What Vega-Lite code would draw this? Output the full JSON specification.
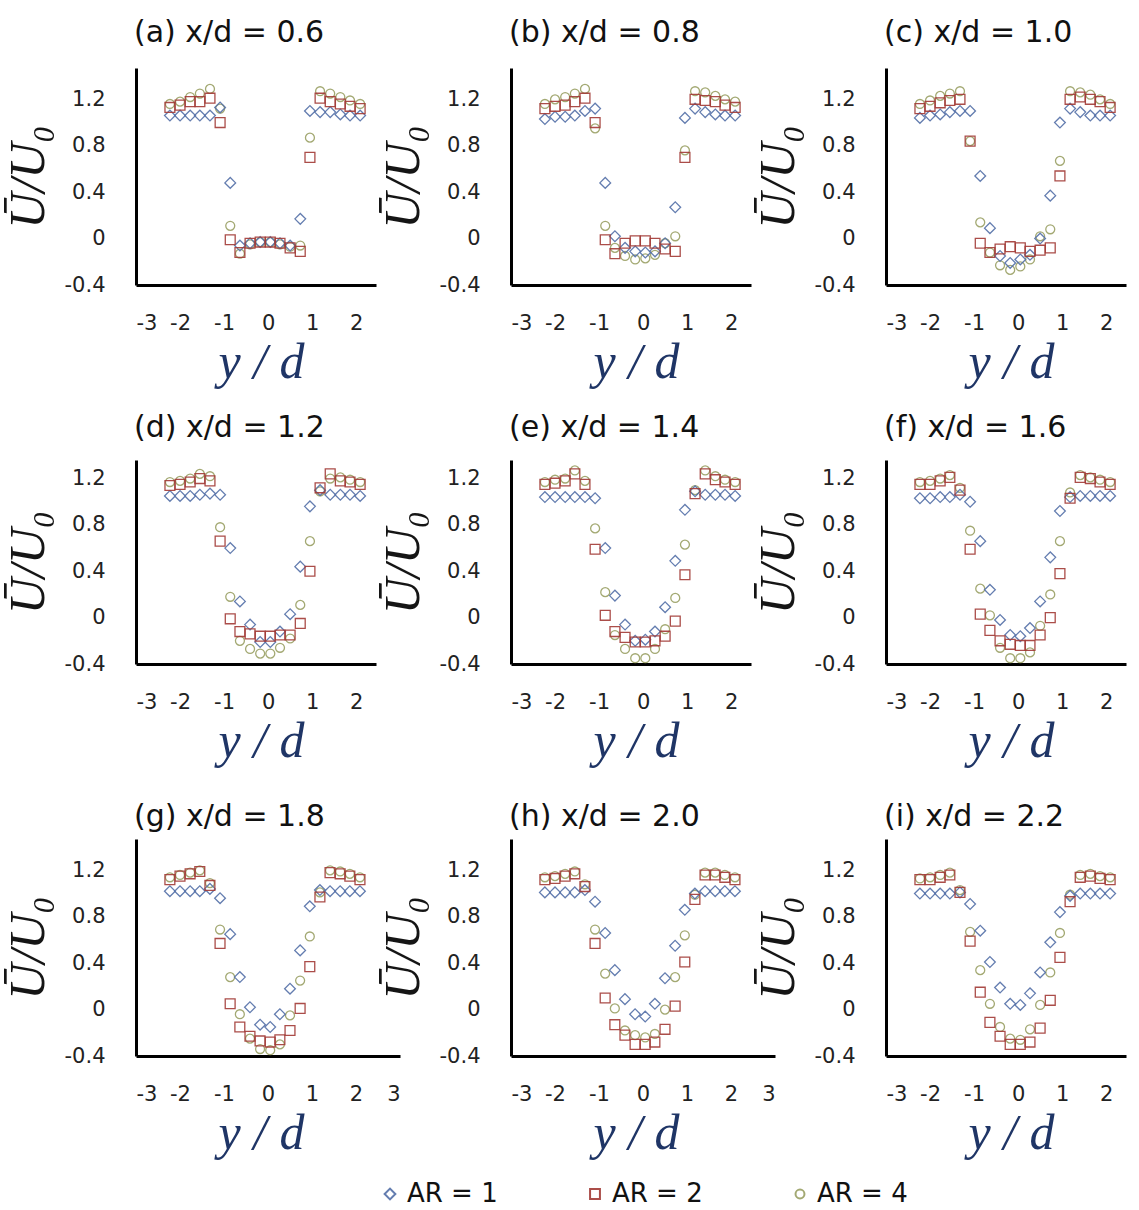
{
"$schema": "https://vega.github.io/schema/vega-lite/v6.json",
"padding": {"left": 3, "top": 18, "right": 5, "bottom": 5},
"bounds": "flush",
"align": "each",
"columns": 3,
"spacing": {"row": 175, "column": 111},
"datasets": {
"a": [
{"s":"4","x":-2.23,"y":1.16},{"s":"4","x":-2.0,"y":1.18},{"s":"4","x":-1.77,"y":1.22},{"s":"4","x":-1.55,"y":1.25},{"s":"4","x":-1.32,"y":1.29},{"s":"4","x":-1.09,"y":1.12},{"s":"4","x":-0.86,"y":0.11},{"s":"4","x":-0.64,"y":-0.13},{"s":"4","x":-0.41,"y":-0.05},{"s":"4","x":-0.18,"y":-0.03},{"s":"4","x":0.05,"y":-0.03},{"s":"4","x":0.27,"y":-0.05},{"s":"4","x":0.5,"y":-0.07},{"s":"4","x":0.73,"y":-0.06},{"s":"4","x":0.95,"y":0.87},{"s":"4","x":1.18,"y":1.27},{"s":"4","x":1.41,"y":1.25},{"s":"4","x":1.64,"y":1.22},{"s":"4","x":1.86,"y":1.19},{"s":"4","x":2.09,"y":1.16},
{"s":"1","x":-2.23,"y":1.06},{"s":"1","x":-2.0,"y":1.06},{"s":"1","x":-1.77,"y":1.06},{"s":"1","x":-1.55,"y":1.06},{"s":"1","x":-1.32,"y":1.06},{"s":"1","x":-1.09,"y":1.13},{"s":"1","x":-0.86,"y":0.48},{"s":"1","x":-0.64,"y":-0.06},{"s":"1","x":-0.41,"y":-0.04},{"s":"1","x":-0.18,"y":-0.03},{"s":"1","x":0.05,"y":-0.03},{"s":"1","x":0.27,"y":-0.04},{"s":"1","x":0.5,"y":-0.06},{"s":"1","x":0.73,"y":0.17},{"s":"1","x":0.95,"y":1.10},{"s":"1","x":1.18,"y":1.09},{"s":"1","x":1.41,"y":1.09},{"s":"1","x":1.64,"y":1.07},{"s":"1","x":1.86,"y":1.06},{"s":"1","x":2.09,"y":1.06},
{"s":"2","x":-2.23,"y":1.13},{"s":"2","x":-2.0,"y":1.15},{"s":"2","x":-1.77,"y":1.18},{"s":"2","x":-1.55,"y":1.18},{"s":"2","x":-1.32,"y":1.21},{"s":"2","x":-1.09,"y":1.00},{"s":"2","x":-0.86,"y":-0.01},{"s":"2","x":-0.64,"y":-0.12},{"s":"2","x":-0.41,"y":-0.04},{"s":"2","x":-0.18,"y":-0.03},{"s":"2","x":0.05,"y":-0.03},{"s":"2","x":0.27,"y":-0.04},{"s":"2","x":0.5,"y":-0.08},{"s":"2","x":0.73,"y":-0.11},{"s":"2","x":0.95,"y":0.70},{"s":"2","x":1.18,"y":1.21},{"s":"2","x":1.41,"y":1.18},{"s":"2","x":1.64,"y":1.16},{"s":"2","x":1.86,"y":1.14},{"s":"2","x":2.09,"y":1.12}
],
"b": [
{"s":"4","x":-2.23,"y":1.16},{"s":"4","x":-2.0,"y":1.20},{"s":"4","x":-1.77,"y":1.22},{"s":"4","x":-1.55,"y":1.25},{"s":"4","x":-1.32,"y":1.29},{"s":"4","x":-1.09,"y":0.95},{"s":"4","x":-0.86,"y":0.11},{"s":"4","x":-0.64,"y":-0.08},{"s":"4","x":-0.41,"y":-0.15},{"s":"4","x":-0.18,"y":-0.18},{"s":"4","x":0.05,"y":-0.17},{"s":"4","x":0.27,"y":-0.14},{"s":"4","x":0.5,"y":-0.04},{"s":"4","x":0.73,"y":0.02},{"s":"4","x":0.95,"y":0.76},{"s":"4","x":1.18,"y":1.27},{"s":"4","x":1.41,"y":1.26},{"s":"4","x":1.64,"y":1.23},{"s":"4","x":1.86,"y":1.20},{"s":"4","x":2.09,"y":1.18},
{"s":"1","x":-2.23,"y":1.03},{"s":"1","x":-2.0,"y":1.05},{"s":"1","x":-1.77,"y":1.05},{"s":"1","x":-1.55,"y":1.06},{"s":"1","x":-1.32,"y":1.10},{"s":"1","x":-1.09,"y":1.12},{"s":"1","x":-0.86,"y":0.48},{"s":"1","x":-0.64,"y":0.02},{"s":"1","x":-0.41,"y":-0.08},{"s":"1","x":-0.18,"y":-0.11},{"s":"1","x":0.05,"y":-0.12},{"s":"1","x":0.27,"y":-0.11},{"s":"1","x":0.5,"y":-0.04},{"s":"1","x":0.73,"y":0.27},{"s":"1","x":0.95,"y":1.04},{"s":"1","x":1.18,"y":1.12},{"s":"1","x":1.41,"y":1.09},{"s":"1","x":1.64,"y":1.07},{"s":"1","x":1.86,"y":1.06},{"s":"1","x":2.09,"y":1.06},
{"s":"2","x":-2.23,"y":1.12},{"s":"2","x":-2.0,"y":1.14},{"s":"2","x":-1.77,"y":1.15},{"s":"2","x":-1.55,"y":1.18},{"s":"2","x":-1.32,"y":1.21},{"s":"2","x":-1.09,"y":1.00},{"s":"2","x":-0.86,"y":-0.01},{"s":"2","x":-0.64,"y":-0.13},{"s":"2","x":-0.41,"y":-0.04},{"s":"2","x":-0.18,"y":-0.02},{"s":"2","x":0.05,"y":-0.02},{"s":"2","x":0.27,"y":-0.04},{"s":"2","x":0.5,"y":-0.09},{"s":"2","x":0.73,"y":-0.11},{"s":"2","x":0.95,"y":0.70},{"s":"2","x":1.18,"y":1.20},{"s":"2","x":1.41,"y":1.19},{"s":"2","x":1.64,"y":1.18},{"s":"2","x":1.86,"y":1.15},{"s":"2","x":2.09,"y":1.13}
],
"c": [
{"s":"4","x":-2.23,"y":1.16},{"s":"4","x":-2.0,"y":1.19},{"s":"4","x":-1.77,"y":1.23},{"s":"4","x":-1.55,"y":1.25},{"s":"4","x":-1.32,"y":1.27},{"s":"4","x":-1.09,"y":0.84},{"s":"4","x":-0.86,"y":0.14},{"s":"4","x":-0.64,"y":-0.12},{"s":"4","x":-0.41,"y":-0.23},{"s":"4","x":-0.18,"y":-0.27},{"s":"4","x":0.05,"y":-0.24},{"s":"4","x":0.27,"y":-0.18},{"s":"4","x":0.5,"y":0.02},{"s":"4","x":0.73,"y":0.08},{"s":"4","x":0.95,"y":0.67},{"s":"4","x":1.18,"y":1.27},{"s":"4","x":1.41,"y":1.26},{"s":"4","x":1.64,"y":1.24},{"s":"4","x":1.86,"y":1.20},{"s":"4","x":2.09,"y":1.16},
{"s":"1","x":-2.23,"y":1.04},{"s":"1","x":-2.0,"y":1.06},{"s":"1","x":-1.77,"y":1.07},{"s":"1","x":-1.55,"y":1.09},{"s":"1","x":-1.32,"y":1.10},{"s":"1","x":-1.09,"y":1.10},{"s":"1","x":-0.86,"y":0.54},{"s":"1","x":-0.64,"y":0.09},{"s":"1","x":-0.41,"y":-0.15},{"s":"1","x":-0.18,"y":-0.21},{"s":"1","x":0.05,"y":-0.18},{"s":"1","x":0.27,"y":-0.14},{"s":"1","x":0.5,"y":0.00},{"s":"1","x":0.73,"y":0.37},{"s":"1","x":0.95,"y":1.00},{"s":"1","x":1.18,"y":1.12},{"s":"1","x":1.41,"y":1.09},{"s":"1","x":1.64,"y":1.06},{"s":"1","x":1.86,"y":1.06},{"s":"1","x":2.09,"y":1.06},
{"s":"2","x":-2.23,"y":1.12},{"s":"2","x":-2.0,"y":1.14},{"s":"2","x":-1.77,"y":1.17},{"s":"2","x":-1.55,"y":1.19},{"s":"2","x":-1.32,"y":1.20},{"s":"2","x":-1.09,"y":0.84},{"s":"2","x":-0.86,"y":-0.04},{"s":"2","x":-0.64,"y":-0.12},{"s":"2","x":-0.41,"y":-0.09},{"s":"2","x":-0.18,"y":-0.07},{"s":"2","x":0.05,"y":-0.08},{"s":"2","x":0.27,"y":-0.11},{"s":"2","x":0.5,"y":-0.10},{"s":"2","x":0.73,"y":-0.08},{"s":"2","x":0.95,"y":0.54},{"s":"2","x":1.18,"y":1.20},{"s":"2","x":1.41,"y":1.22},{"s":"2","x":1.64,"y":1.20},{"s":"2","x":1.86,"y":1.18},{"s":"2","x":2.09,"y":1.13}
],
"d": [
{"s":"4","x":-2.23,"y":1.17},{"s":"4","x":-2.0,"y":1.18},{"s":"4","x":-1.77,"y":1.20},{"s":"4","x":-1.55,"y":1.24},{"s":"4","x":-1.32,"y":1.22},{"s":"4","x":-1.09,"y":0.78},{"s":"4","x":-0.86,"y":0.18},{"s":"4","x":-0.64,"y":-0.20},{"s":"4","x":-0.41,"y":-0.27},{"s":"4","x":-0.18,"y":-0.31},{"s":"4","x":0.05,"y":-0.31},{"s":"4","x":0.27,"y":-0.26},{"s":"4","x":0.5,"y":-0.18},{"s":"4","x":0.73,"y":0.11},{"s":"4","x":0.95,"y":0.66},{"s":"4","x":1.18,"y":1.09},{"s":"4","x":1.41,"y":1.20},{"s":"4","x":1.64,"y":1.21},{"s":"4","x":1.86,"y":1.19},{"s":"4","x":2.09,"y":1.17},
{"s":"1","x":-2.23,"y":1.05},{"s":"1","x":-2.0,"y":1.05},{"s":"1","x":-1.77,"y":1.05},{"s":"1","x":-1.55,"y":1.06},{"s":"1","x":-1.32,"y":1.07},{"s":"1","x":-1.09,"y":1.06},{"s":"1","x":-0.86,"y":0.60},{"s":"1","x":-0.64,"y":0.14},{"s":"1","x":-0.41,"y":-0.06},{"s":"1","x":-0.18,"y":-0.21},{"s":"1","x":0.05,"y":-0.21},{"s":"1","x":0.27,"y":-0.12},{"s":"1","x":0.5,"y":0.03},{"s":"1","x":0.73,"y":0.44},{"s":"1","x":0.95,"y":0.96},{"s":"1","x":1.18,"y":1.10},{"s":"1","x":1.41,"y":1.06},{"s":"1","x":1.64,"y":1.06},{"s":"1","x":1.86,"y":1.06},{"s":"1","x":2.09,"y":1.05},
{"s":"2","x":-2.23,"y":1.14},{"s":"2","x":-2.0,"y":1.15},{"s":"2","x":-1.77,"y":1.17},{"s":"2","x":-1.55,"y":1.20},{"s":"2","x":-1.32,"y":1.18},{"s":"2","x":-1.09,"y":0.66},{"s":"2","x":-0.86,"y":-0.01},{"s":"2","x":-0.64,"y":-0.12},{"s":"2","x":-0.41,"y":-0.14},{"s":"2","x":-0.18,"y":-0.16},{"s":"2","x":0.05,"y":-0.16},{"s":"2","x":0.27,"y":-0.15},{"s":"2","x":0.5,"y":-0.15},{"s":"2","x":0.73,"y":-0.05},{"s":"2","x":0.95,"y":0.40},{"s":"2","x":1.18,"y":1.12},{"s":"2","x":1.41,"y":1.24},{"s":"2","x":1.64,"y":1.18},{"s":"2","x":1.86,"y":1.17},{"s":"2","x":2.09,"y":1.15}
],
"e": [
{"s":"4","x":-2.23,"y":1.17},{"s":"4","x":-2.0,"y":1.19},{"s":"4","x":-1.77,"y":1.20},{"s":"4","x":-1.55,"y":1.27},{"s":"4","x":-1.32,"y":1.18},{"s":"4","x":-1.09,"y":0.77},{"s":"4","x":-0.86,"y":0.22},{"s":"4","x":-0.64,"y":-0.15},{"s":"4","x":-0.41,"y":-0.27},{"s":"4","x":-0.18,"y":-0.35},{"s":"4","x":0.05,"y":-0.35},{"s":"4","x":0.27,"y":-0.27},{"s":"4","x":0.5,"y":-0.10},{"s":"4","x":0.73,"y":0.17},{"s":"4","x":0.95,"y":0.63},{"s":"4","x":1.18,"y":1.10},{"s":"4","x":1.41,"y":1.27},{"s":"4","x":1.64,"y":1.22},{"s":"4","x":1.86,"y":1.19},{"s":"4","x":2.09,"y":1.17},
{"s":"1","x":-2.23,"y":1.04},{"s":"1","x":-2.0,"y":1.04},{"s":"1","x":-1.77,"y":1.04},{"s":"1","x":-1.55,"y":1.04},{"s":"1","x":-1.32,"y":1.04},{"s":"1","x":-1.09,"y":1.03},{"s":"1","x":-0.86,"y":0.60},{"s":"1","x":-0.64,"y":0.19},{"s":"1","x":-0.41,"y":-0.06},{"s":"1","x":-0.18,"y":-0.20},{"s":"1","x":0.05,"y":-0.19},{"s":"1","x":0.27,"y":-0.12},{"s":"1","x":0.5,"y":0.09},{"s":"1","x":0.73,"y":0.49},{"s":"1","x":0.95,"y":0.93},{"s":"1","x":1.18,"y":1.09},{"s":"1","x":1.41,"y":1.06},{"s":"1","x":1.64,"y":1.06},{"s":"1","x":1.86,"y":1.06},{"s":"1","x":2.09,"y":1.05},
{"s":"2","x":-2.23,"y":1.15},{"s":"2","x":-2.0,"y":1.16},{"s":"2","x":-1.77,"y":1.18},{"s":"2","x":-1.55,"y":1.24},{"s":"2","x":-1.32,"y":1.15},{"s":"2","x":-1.09,"y":0.59},{"s":"2","x":-0.86,"y":0.02},{"s":"2","x":-0.64,"y":-0.12},{"s":"2","x":-0.41,"y":-0.17},{"s":"2","x":-0.18,"y":-0.21},{"s":"2","x":0.05,"y":-0.21},{"s":"2","x":0.27,"y":-0.20},{"s":"2","x":0.5,"y":-0.16},{"s":"2","x":0.73,"y":-0.03},{"s":"2","x":0.95,"y":0.37},{"s":"2","x":1.18,"y":1.07},{"s":"2","x":1.41,"y":1.24},{"s":"2","x":1.64,"y":1.19},{"s":"2","x":1.86,"y":1.17},{"s":"2","x":2.09,"y":1.15}
],
"f": [
{"s":"4","x":-2.23,"y":1.17},{"s":"4","x":-2.0,"y":1.18},{"s":"4","x":-1.77,"y":1.20},{"s":"4","x":-1.55,"y":1.23},{"s":"4","x":-1.32,"y":1.12},{"s":"4","x":-1.09,"y":0.75},{"s":"4","x":-0.86,"y":0.25},{"s":"4","x":-0.64,"y":0.02},{"s":"4","x":-0.41,"y":-0.26},{"s":"4","x":-0.18,"y":-0.35},{"s":"4","x":0.05,"y":-0.35},{"s":"4","x":0.27,"y":-0.30},{"s":"4","x":0.5,"y":-0.07},{"s":"4","x":0.73,"y":0.20},{"s":"4","x":0.95,"y":0.66},{"s":"4","x":1.18,"y":1.08},{"s":"4","x":1.41,"y":1.23},{"s":"4","x":1.64,"y":1.21},{"s":"4","x":1.86,"y":1.19},{"s":"4","x":2.09,"y":1.17},
{"s":"1","x":-2.23,"y":1.03},{"s":"1","x":-2.0,"y":1.03},{"s":"1","x":-1.77,"y":1.04},{"s":"1","x":-1.55,"y":1.04},{"s":"1","x":-1.32,"y":1.06},{"s":"1","x":-1.09,"y":1.00},{"s":"1","x":-0.86,"y":0.66},{"s":"1","x":-0.64,"y":0.24},{"s":"1","x":-0.41,"y":-0.02},{"s":"1","x":-0.18,"y":-0.15},{"s":"1","x":0.05,"y":-0.16},{"s":"1","x":0.27,"y":-0.09},{"s":"1","x":0.5,"y":0.14},{"s":"1","x":0.73,"y":0.52},{"s":"1","x":0.95,"y":0.92},{"s":"1","x":1.18,"y":1.04},{"s":"1","x":1.41,"y":1.05},{"s":"1","x":1.64,"y":1.05},{"s":"1","x":1.86,"y":1.05},{"s":"1","x":2.09,"y":1.05},
{"s":"2","x":-2.23,"y":1.15},{"s":"2","x":-2.0,"y":1.15},{"s":"2","x":-1.77,"y":1.18},{"s":"2","x":-1.55,"y":1.21},{"s":"2","x":-1.32,"y":1.10},{"s":"2","x":-1.09,"y":0.59},{"s":"2","x":-0.86,"y":0.03},{"s":"2","x":-0.64,"y":-0.11},{"s":"2","x":-0.41,"y":-0.20},{"s":"2","x":-0.18,"y":-0.23},{"s":"2","x":0.05,"y":-0.24},{"s":"2","x":0.27,"y":-0.24},{"s":"2","x":0.5,"y":-0.15},{"s":"2","x":0.73,"y":0.00},{"s":"2","x":0.95,"y":0.38},{"s":"2","x":1.18,"y":1.03},{"s":"2","x":1.41,"y":1.21},{"s":"2","x":1.64,"y":1.20},{"s":"2","x":1.86,"y":1.17},{"s":"2","x":2.09,"y":1.15}
],
"g": [
{"s":"4","x":-2.23,"y":1.14},{"s":"4","x":-2.0,"y":1.16},{"s":"4","x":-1.77,"y":1.18},{"s":"4","x":-1.55,"y":1.20},{"s":"4","x":-1.32,"y":1.09},{"s":"4","x":-1.09,"y":0.69},{"s":"4","x":-0.86,"y":0.28},{"s":"4","x":-0.64,"y":-0.04},{"s":"4","x":-0.41,"y":-0.25},{"s":"4","x":-0.18,"y":-0.34},{"s":"4","x":0.05,"y":-0.35},{"s":"4","x":0.27,"y":-0.30},{"s":"4","x":0.5,"y":-0.05},{"s":"4","x":0.73,"y":0.25},{"s":"4","x":0.95,"y":0.63},{"s":"4","x":1.18,"y":1.01},{"s":"4","x":1.41,"y":1.20},{"s":"4","x":1.64,"y":1.19},{"s":"4","x":1.86,"y":1.17},{"s":"4","x":2.09,"y":1.14},
{"s":"1","x":-2.23,"y":1.02},{"s":"1","x":-2.0,"y":1.02},{"s":"1","x":-1.77,"y":1.02},{"s":"1","x":-1.55,"y":1.02},{"s":"1","x":-1.32,"y":1.04},{"s":"1","x":-1.09,"y":0.96},{"s":"1","x":-0.86,"y":0.65},{"s":"1","x":-0.64,"y":0.28},{"s":"1","x":-0.41,"y":0.02},{"s":"1","x":-0.18,"y":-0.13},{"s":"1","x":0.05,"y":-0.15},{"s":"1","x":0.27,"y":-0.04},{"s":"1","x":0.5,"y":0.18},{"s":"1","x":0.73,"y":0.51},{"s":"1","x":0.95,"y":0.89},{"s":"1","x":1.18,"y":1.03},{"s":"1","x":1.41,"y":1.02},{"s":"1","x":1.64,"y":1.02},{"s":"1","x":1.86,"y":1.02},{"s":"1","x":2.09,"y":1.02},
{"s":"2","x":-2.23,"y":1.12},{"s":"2","x":-2.0,"y":1.15},{"s":"2","x":-1.77,"y":1.17},{"s":"2","x":-1.55,"y":1.19},{"s":"2","x":-1.32,"y":1.07},{"s":"2","x":-1.09,"y":0.57},{"s":"2","x":-0.86,"y":0.05},{"s":"2","x":-0.64,"y":-0.15},{"s":"2","x":-0.41,"y":-0.23},{"s":"2","x":-0.18,"y":-0.27},{"s":"2","x":0.05,"y":-0.28},{"s":"2","x":0.27,"y":-0.26},{"s":"2","x":0.5,"y":-0.18},{"s":"2","x":0.73,"y":0.01},{"s":"2","x":0.95,"y":0.37},{"s":"2","x":1.18,"y":0.97},{"s":"2","x":1.41,"y":1.18},{"s":"2","x":1.64,"y":1.17},{"s":"2","x":1.86,"y":1.15},{"s":"2","x":2.09,"y":1.12}
],
"h": [
{"s":"4","x":-2.23,"y":1.14},{"s":"4","x":-2.0,"y":1.15},{"s":"4","x":-1.77,"y":1.17},{"s":"4","x":-1.55,"y":1.19},{"s":"4","x":-1.32,"y":1.08},{"s":"4","x":-1.09,"y":0.69},{"s":"4","x":-0.86,"y":0.31},{"s":"4","x":-0.64,"y":0.01},{"s":"4","x":-0.41,"y":-0.18},{"s":"4","x":-0.18,"y":-0.22},{"s":"4","x":0.05,"y":-0.24},{"s":"4","x":0.27,"y":-0.21},{"s":"4","x":0.5,"y":0.00},{"s":"4","x":0.73,"y":0.28},{"s":"4","x":0.95,"y":0.64},{"s":"4","x":1.18,"y":0.99},{"s":"4","x":1.41,"y":1.18},{"s":"4","x":1.64,"y":1.18},{"s":"4","x":1.86,"y":1.16},{"s":"4","x":2.09,"y":1.14},
{"s":"1","x":-2.23,"y":1.01},{"s":"1","x":-2.0,"y":1.01},{"s":"1","x":-1.77,"y":1.01},{"s":"1","x":-1.55,"y":1.01},{"s":"1","x":-1.32,"y":1.03},{"s":"1","x":-1.09,"y":0.93},{"s":"1","x":-0.86,"y":0.66},{"s":"1","x":-0.64,"y":0.34},{"s":"1","x":-0.41,"y":0.09},{"s":"1","x":-0.18,"y":-0.04},{"s":"1","x":0.05,"y":-0.06},{"s":"1","x":0.27,"y":0.05},{"s":"1","x":0.5,"y":0.27},{"s":"1","x":0.73,"y":0.55},{"s":"1","x":0.95,"y":0.86},{"s":"1","x":1.18,"y":1.00},{"s":"1","x":1.41,"y":1.02},{"s":"1","x":1.64,"y":1.02},{"s":"1","x":1.86,"y":1.02},{"s":"1","x":2.09,"y":1.02},
{"s":"2","x":-2.23,"y":1.12},{"s":"2","x":-2.0,"y":1.13},{"s":"2","x":-1.77,"y":1.15},{"s":"2","x":-1.55,"y":1.17},{"s":"2","x":-1.32,"y":1.06},{"s":"2","x":-1.09,"y":0.57},{"s":"2","x":-0.86,"y":0.10},{"s":"2","x":-0.64,"y":-0.13},{"s":"2","x":-0.41,"y":-0.22},{"s":"2","x":-0.18,"y":-0.30},{"s":"2","x":0.05,"y":-0.30},{"s":"2","x":0.27,"y":-0.28},{"s":"2","x":0.5,"y":-0.17},{"s":"2","x":0.73,"y":0.03},{"s":"2","x":0.95,"y":0.41},{"s":"2","x":1.18,"y":0.95},{"s":"2","x":1.41,"y":1.16},{"s":"2","x":1.64,"y":1.16},{"s":"2","x":1.86,"y":1.14},{"s":"2","x":2.09,"y":1.12}
],
"i": [
{"s":"4","x":-2.23,"y":1.13},{"s":"4","x":-2.0,"y":1.14},{"s":"4","x":-1.77,"y":1.16},{"s":"4","x":-1.55,"y":1.18},{"s":"4","x":-1.32,"y":1.03},{"s":"4","x":-1.09,"y":0.67},{"s":"4","x":-0.86,"y":0.34},{"s":"4","x":-0.64,"y":0.05},{"s":"4","x":-0.41,"y":-0.15},{"s":"4","x":-0.18,"y":-0.25},{"s":"4","x":0.05,"y":-0.26},{"s":"4","x":0.27,"y":-0.17},{"s":"4","x":0.5,"y":0.04},{"s":"4","x":0.73,"y":0.32},{"s":"4","x":0.95,"y":0.66},{"s":"4","x":1.18,"y":0.99},{"s":"4","x":1.41,"y":1.16},{"s":"4","x":1.64,"y":1.17},{"s":"4","x":1.86,"y":1.15},{"s":"4","x":2.09,"y":1.14},
{"s":"1","x":-2.23,"y":1.00},{"s":"1","x":-2.0,"y":1.00},{"s":"1","x":-1.77,"y":1.00},{"s":"1","x":-1.55,"y":1.00},{"s":"1","x":-1.32,"y":1.01},{"s":"1","x":-1.09,"y":0.91},{"s":"1","x":-0.86,"y":0.68},{"s":"1","x":-0.64,"y":0.41},{"s":"1","x":-0.41,"y":0.19},{"s":"1","x":-0.18,"y":0.05},{"s":"1","x":0.05,"y":0.04},{"s":"1","x":0.27,"y":0.14},{"s":"1","x":0.5,"y":0.32},{"s":"1","x":0.73,"y":0.58},{"s":"1","x":0.95,"y":0.84},{"s":"1","x":1.18,"y":0.98},{"s":"1","x":1.41,"y":1.00},{"s":"1","x":1.64,"y":1.00},{"s":"1","x":1.86,"y":1.00},{"s":"1","x":2.09,"y":1.00},
{"s":"2","x":-2.23,"y":1.12},{"s":"2","x":-2.0,"y":1.12},{"s":"2","x":-1.77,"y":1.14},{"s":"2","x":-1.55,"y":1.16},{"s":"2","x":-1.32,"y":1.01},{"s":"2","x":-1.09,"y":0.59},{"s":"2","x":-0.86,"y":0.15},{"s":"2","x":-0.64,"y":-0.11},{"s":"2","x":-0.41,"y":-0.23},{"s":"2","x":-0.18,"y":-0.30},{"s":"2","x":0.05,"y":-0.30},{"s":"2","x":0.27,"y":-0.28},{"s":"2","x":0.5,"y":-0.16},{"s":"2","x":0.73,"y":0.08},{"s":"2","x":0.95,"y":0.45},{"s":"2","x":1.18,"y":0.93},{"s":"2","x":1.41,"y":1.14},{"s":"2","x":1.64,"y":1.15},{"s":"2","x":1.86,"y":1.13},{"s":"2","x":2.09,"y":1.12}
]
},
"concat": [
{"title": {"text": "(a) x/d = 0.6", "offset": 20}, "data": {"name": "a"}, "width": 240, "height": 217,
 "mark": {"type": "point", "filled": false, "strokeWidth": 1.3, "opacity": 0.9},
 "encoding": {
  "x": {"field": "x", "type": "quantitative", "title": "y / d", "scale": {"domain": [-3, 2.45], "nice": false, "zero": false}, "axis": {"values": [-3,-2,-1,0,1,2], "labelExpr": "datum.value < 0 ? '-' + (-datum.value) : '' + datum.value"}},
  "y": {"field": "y", "type": "quantitative", "title": "Ū/U₀", "scale": {"domain": [-0.4, 1.47], "nice": false, "zero": false}, "axis": {"values": [-0.4,0,0.4,0.8,1.2], "labelExpr": "datum.value == 0 ? '0' : (datum.value < 0 ? '-' + format(-datum.value, '.1f') : format(datum.value, '.1f'))"}},
  "color": {"field": "s", "type": "nominal", "scale": {"domain": ["1","2","4"], "range": ["#5470A8","#A23A36","#9AA064"]}, "legend": {"orient": "none", "legendX": 241, "legendY": 1113, "direction": "horizontal", "columns": 3, "title": null, "labelExpr": "'AR = ' + datum.label"}},
  "shape": {"field": "s", "type": "nominal", "scale": {"domain": ["1","2","4"], "range": ["diamond","square","circle"]}, "legend": {"orient": "none", "legendX": 241, "legendY": 1113, "direction": "horizontal", "columns": 3, "title": null, "labelExpr": "'AR = ' + datum.label"}},
  "size": {"field": "s", "type": "nominal", "scale": {"domain": ["1","2","4"], "range": [115,80,80]}, "legend": null}
 }},
{"title": {"text": "(b) x/d = 0.8", "offset": 20}, "data": {"name": "b"}, "width": 240, "height": 217,
 "mark": {"type": "point", "filled": false, "strokeWidth": 1.3, "opacity": 0.9},
 "encoding": {
  "x": {"field": "x", "type": "quantitative", "title": "y / d", "scale": {"domain": [-3, 2.45], "nice": false, "zero": false}, "axis": {"values": [-3,-2,-1,0,1,2], "labelExpr": "datum.value < 0 ? '-' + (-datum.value) : '' + datum.value"}},
  "y": {"field": "y", "type": "quantitative", "title": "Ū/U₀", "scale": {"domain": [-0.4, 1.47], "nice": false, "zero": false}, "axis": {"values": [-0.4,0,0.4,0.8,1.2], "labelExpr": "datum.value == 0 ? '0' : (datum.value < 0 ? '-' + format(-datum.value, '.1f') : format(datum.value, '.1f'))"}},
  "color": {"field": "s", "type": "nominal", "scale": {"domain": ["1","2","4"], "range": ["#5470A8","#A23A36","#9AA064"]}},
  "shape": {"field": "s", "type": "nominal", "scale": {"domain": ["1","2","4"], "range": ["diamond","square","circle"]}},
  "size": {"field": "s", "type": "nominal", "scale": {"domain": ["1","2","4"], "range": [115,80,80]}, "legend": null}
 }},
{"title": {"text": "(c) x/d = 1.0", "offset": 20}, "data": {"name": "c"}, "width": 240, "height": 217,
 "mark": {"type": "point", "filled": false, "strokeWidth": 1.3, "opacity": 0.9},
 "encoding": {
  "x": {"field": "x", "type": "quantitative", "title": "y / d", "scale": {"domain": [-3, 2.45], "nice": false, "zero": false}, "axis": {"values": [-3,-2,-1,0,1,2], "labelExpr": "datum.value < 0 ? '-' + (-datum.value) : '' + datum.value"}},
  "y": {"field": "y", "type": "quantitative", "title": "Ū/U₀", "scale": {"domain": [-0.4, 1.47], "nice": false, "zero": false}, "axis": {"values": [-0.4,0,0.4,0.8,1.2], "labelExpr": "datum.value == 0 ? '0' : (datum.value < 0 ? '-' + format(-datum.value, '.1f') : format(datum.value, '.1f'))"}},
  "color": {"field": "s", "type": "nominal", "scale": {"domain": ["1","2","4"], "range": ["#5470A8","#A23A36","#9AA064"]}},
  "shape": {"field": "s", "type": "nominal", "scale": {"domain": ["1","2","4"], "range": ["diamond","square","circle"]}},
  "size": {"field": "s", "type": "nominal", "scale": {"domain": ["1","2","4"], "range": [115,80,80]}, "legend": null}
 }},
{"title": {"text": "(d) x/d = 1.2", "offset": 17}, "data": {"name": "d"}, "width": 240, "height": 204,
 "mark": {"type": "point", "filled": false, "strokeWidth": 1.3, "opacity": 0.9},
 "encoding": {
  "x": {"field": "x", "type": "quantitative", "title": "y / d", "scale": {"domain": [-3, 2.45], "nice": false, "zero": false}, "axis": {"values": [-3,-2,-1,0,1,2], "labelExpr": "datum.value < 0 ? '-' + (-datum.value) : '' + datum.value"}},
  "y": {"field": "y", "type": "quantitative", "title": "Ū/U₀", "scale": {"domain": [-0.4, 1.36], "nice": false, "zero": false}, "axis": {"values": [-0.4,0,0.4,0.8,1.2], "labelExpr": "datum.value == 0 ? '0' : (datum.value < 0 ? '-' + format(-datum.value, '.1f') : format(datum.value, '.1f'))"}},
  "color": {"field": "s", "type": "nominal", "scale": {"domain": ["1","2","4"], "range": ["#5470A8","#A23A36","#9AA064"]}},
  "shape": {"field": "s", "type": "nominal", "scale": {"domain": ["1","2","4"], "range": ["diamond","square","circle"]}},
  "size": {"field": "s", "type": "nominal", "scale": {"domain": ["1","2","4"], "range": [115,80,80]}, "legend": null}
 }},
{"title": {"text": "(e) x/d = 1.4", "offset": 17}, "data": {"name": "e"}, "width": 240, "height": 204,
 "mark": {"type": "point", "filled": false, "strokeWidth": 1.3, "opacity": 0.9},
 "encoding": {
  "x": {"field": "x", "type": "quantitative", "title": "y / d", "scale": {"domain": [-3, 2.45], "nice": false, "zero": false}, "axis": {"values": [-3,-2,-1,0,1,2], "labelExpr": "datum.value < 0 ? '-' + (-datum.value) : '' + datum.value"}},
  "y": {"field": "y", "type": "quantitative", "title": "Ū/U₀", "scale": {"domain": [-0.4, 1.36], "nice": false, "zero": false}, "axis": {"values": [-0.4,0,0.4,0.8,1.2], "labelExpr": "datum.value == 0 ? '0' : (datum.value < 0 ? '-' + format(-datum.value, '.1f') : format(datum.value, '.1f'))"}},
  "color": {"field": "s", "type": "nominal", "scale": {"domain": ["1","2","4"], "range": ["#5470A8","#A23A36","#9AA064"]}},
  "shape": {"field": "s", "type": "nominal", "scale": {"domain": ["1","2","4"], "range": ["diamond","square","circle"]}},
  "size": {"field": "s", "type": "nominal", "scale": {"domain": ["1","2","4"], "range": [115,80,80]}, "legend": null}
 }},
{"title": {"text": "(f) x/d = 1.6", "offset": 17}, "data": {"name": "f"}, "width": 240, "height": 204,
 "mark": {"type": "point", "filled": false, "strokeWidth": 1.3, "opacity": 0.9},
 "encoding": {
  "x": {"field": "x", "type": "quantitative", "title": "y / d", "scale": {"domain": [-3, 2.45], "nice": false, "zero": false}, "axis": {"values": [-3,-2,-1,0,1,2], "labelExpr": "datum.value < 0 ? '-' + (-datum.value) : '' + datum.value"}},
  "y": {"field": "y", "type": "quantitative", "title": "Ū/U₀", "scale": {"domain": [-0.4, 1.36], "nice": false, "zero": false}, "axis": {"values": [-0.4,0,0.4,0.8,1.2], "labelExpr": "datum.value == 0 ? '0' : (datum.value < 0 ? '-' + format(-datum.value, '.1f') : format(datum.value, '.1f'))"}},
  "color": {"field": "s", "type": "nominal", "scale": {"domain": ["1","2","4"], "range": ["#5470A8","#A23A36","#9AA064"]}},
  "shape": {"field": "s", "type": "nominal", "scale": {"domain": ["1","2","4"], "range": ["diamond","square","circle"]}},
  "size": {"field": "s", "type": "nominal", "scale": {"domain": ["1","2","4"], "range": [115,80,80]}, "legend": null}
 }},
{"title": {"text": "(g) x/d = 1.8", "offset": 7}, "data": {"name": "g"}, "width": 264, "height": 217,
 "mark": {"type": "point", "filled": false, "strokeWidth": 1.3, "opacity": 0.9},
 "encoding": {
  "x": {"field": "x", "type": "quantitative", "title": "y / d", "scale": {"domain": [-3, 3], "nice": false, "zero": false}, "axis": {"values": [-3,-2,-1,0,1,2,3], "labelExpr": "datum.value < 0 ? '-' + (-datum.value) : '' + datum.value"}},
  "y": {"field": "y", "type": "quantitative", "title": "Ū/U₀", "scale": {"domain": [-0.4, 1.47], "nice": false, "zero": false}, "axis": {"values": [-0.4,0,0.4,0.8,1.2], "labelExpr": "datum.value == 0 ? '0' : (datum.value < 0 ? '-' + format(-datum.value, '.1f') : format(datum.value, '.1f'))"}},
  "color": {"field": "s", "type": "nominal", "scale": {"domain": ["1","2","4"], "range": ["#5470A8","#A23A36","#9AA064"]}},
  "shape": {"field": "s", "type": "nominal", "scale": {"domain": ["1","2","4"], "range": ["diamond","square","circle"]}},
  "size": {"field": "s", "type": "nominal", "scale": {"domain": ["1","2","4"], "range": [115,80,80]}, "legend": null}
 }},
{"title": {"text": "(h) x/d = 2.0", "offset": 7}, "data": {"name": "h"}, "width": 264, "height": 217,
 "mark": {"type": "point", "filled": false, "strokeWidth": 1.3, "opacity": 0.9},
 "encoding": {
  "x": {"field": "x", "type": "quantitative", "title": "y / d", "scale": {"domain": [-3, 3], "nice": false, "zero": false}, "axis": {"values": [-3,-2,-1,0,1,2,3], "labelExpr": "datum.value < 0 ? '-' + (-datum.value) : '' + datum.value"}},
  "y": {"field": "y", "type": "quantitative", "title": "Ū/U₀", "scale": {"domain": [-0.4, 1.47], "nice": false, "zero": false}, "axis": {"values": [-0.4,0,0.4,0.8,1.2], "labelExpr": "datum.value == 0 ? '0' : (datum.value < 0 ? '-' + format(-datum.value, '.1f') : format(datum.value, '.1f'))"}},
  "color": {"field": "s", "type": "nominal", "scale": {"domain": ["1","2","4"], "range": ["#5470A8","#A23A36","#9AA064"]}},
  "shape": {"field": "s", "type": "nominal", "scale": {"domain": ["1","2","4"], "range": ["diamond","square","circle"]}},
  "size": {"field": "s", "type": "nominal", "scale": {"domain": ["1","2","4"], "range": [115,80,80]}, "legend": null}
 }},
{"title": {"text": "(i) x/d = 2.2", "offset": 7}, "data": {"name": "i"}, "width": 240, "height": 217,
 "mark": {"type": "point", "filled": false, "strokeWidth": 1.3, "opacity": 0.9},
 "encoding": {
  "x": {"field": "x", "type": "quantitative", "title": "y / d", "scale": {"domain": [-3, 2.45], "nice": false, "zero": false}, "axis": {"values": [-3,-2,-1,0,1,2], "labelExpr": "datum.value < 0 ? '-' + (-datum.value) : '' + datum.value"}},
  "y": {"field": "y", "type": "quantitative", "title": "Ū/U₀", "scale": {"domain": [-0.4, 1.47], "nice": false, "zero": false}, "axis": {"values": [-0.4,0,0.4,0.8,1.2], "labelExpr": "datum.value == 0 ? '0' : (datum.value < 0 ? '-' + format(-datum.value, '.1f') : format(datum.value, '.1f'))"}},
  "color": {"field": "s", "type": "nominal", "scale": {"domain": ["1","2","4"], "range": ["#5470A8","#A23A36","#9AA064"]}},
  "shape": {"field": "s", "type": "nominal", "scale": {"domain": ["1","2","4"], "range": ["diamond","square","circle"]}},
  "size": {"field": "s", "type": "nominal", "scale": {"domain": ["1","2","4"], "range": [115,80,80]}, "legend": null}
 }}
],
"config": {
 "view": {"stroke": null},
 "background": "white",
 "font": "DejaVu Sans",
 "title": {"font": "DejaVu Sans", "fontSize": 30, "fontWeight": "normal", "color": "#111111", "anchor": "start", "frame": "group", "baseline": "alphabetic", "dx": -2},
 "axis": {"grid": false, "ticks": false, "tickSize": 0, "domainColor": "#000000", "domainWidth": 3, "labelFont": "DejaVu Sans", "labelFontSize": 21, "labelColor": "#222222", "titleFont": "Liberation Serif", "titleFontStyle": "italic", "titleFontWeight": "normal"},
 "axisX": {"labelPadding": 27, "titleFontSize": 50, "titleColor": "#1F3566", "titlePadding": 4, "titleX": 125},
 "axisY": {"labelPadding": 31, "titleFontSize": 50, "titleColor": "#151515", "titlePadding": 11},
 "legend": {"labelFont": "DejaVu Sans", "labelFontSize": 26, "labelColor": "#111111", "symbolSize": 220, "symbolStrokeWidth": 2, "columnPadding": 84, "labelOffset": 4}
}
}
